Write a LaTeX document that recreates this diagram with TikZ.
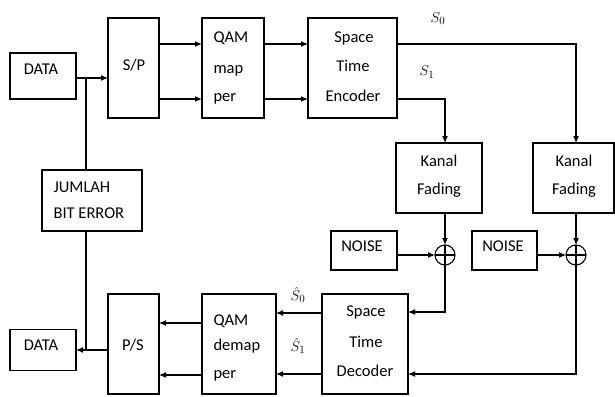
\documentclass[tikz,border=0pt]{standalone}
\usepackage{fontspec}
\setmainfont{Carlito}
\usetikzlibrary{arrows.meta}
\begin{document}
\begin{tikzpicture}[x=1pt,y=-1pt,line width=1.1pt,
  >={Latex[length=7pt,width=6pt]},
  box/.style={draw,inner sep=0,outer sep=0},
  txt/.style={inner sep=0,anchor=mid,font=\fontsize{16.5}{18}\selectfont},
  ltxt/.style={inner sep=0,anchor=mid west,font=\fontsize{16.5}{18}\selectfont},
  lbl/.style={inner sep=0,font=\fontsize{15}{16}\selectfont},
  adder/.style={draw,circle,inner sep=0,minimum size=20pt,outer sep=0}]
\useasboundingbox (0,0) rectangle (615,396);
% boxes
\node[box,minimum width=66pt,minimum height=46pt] (data1) at (43,76) {};
\node[box,minimum width=51pt,minimum height=100pt] (sp) at (133.5,68) {};
\node[box,minimum width=62pt,minimum height=100pt] (qam) at (233,68) {};
\node[box,minimum width=89pt,minimum height=100pt] (enc) at (352.5,68) {};
\node[box,minimum width=86pt,minimum height=70pt] (kan1) at (439,178) {};
\node[box,minimum width=81pt,minimum height=70pt] (kan2) at (573.5,178) {};
\node[box,minimum width=66pt,minimum height=39pt] (noise1) at (364,250.5) {};
\node[box,minimum width=65pt,minimum height=39pt] (noise2) at (504.5,250.5) {};
\node[adder] (add1) at (445,255) {};
\node[adder] (add2) at (576,255) {};
\draw (add1.north) -- (add1.south) (add1.west) -- (add1.east);
\draw (add2.north) -- (add2.south) (add2.west) -- (add2.east);
\node[box,minimum width=86pt,minimum height=100pt] (dec) at (365,344) {};
\node[box,minimum width=74pt,minimum height=100pt] (demap) at (239,344) {};
\node[box,minimum width=51pt,minimum height=100pt] (ps) at (133.5,344) {};
\node[box,minimum width=66pt,minimum height=41pt] (data2) at (43,350) {};
\node[box,minimum width=100pt,minimum height=61pt] (jum) at (92,200.5) {};
% texts
\node[txt] (t1) at (41,72) {DATA};
\node[txt] (t2) at (134,68) {S/P};
\node[ltxt] (t3) at (213,40) {QAM};
\node[ltxt] (t4) at (213,71) {map};
\node[ltxt] (t5) at (213,99) {per};
\node[txt] (t6) at (354,40) {Space};
\node[txt] (t7) at (353,69) {Time};
\node[txt] (t8) at (353,99) {Encoder};
\node[txt] (t9) at (439,164) {Kanal};
\node[txt] (t10) at (439,192) {Fading};
\node[txt] (t11) at (574,164) {Kanal};
\node[txt] (t12) at (574,192) {Fading};
\node[txt] (t13) at (362,249) {NOISE};
\node[txt] (t14) at (503,249) {NOISE};
\node[ltxt] (t15) at (53,190) {JUMLAH};
\node[ltxt] (t16) at (53,216) {BIT ERROR};
\node[txt] (t17) at (366,314) {Space};
\node[txt] (t18) at (366,345) {Time};
\node[txt] (t19) at (365,374) {Decoder};
\node[ltxt] (t20) at (213,323) {QAM};
\node[ltxt] (t21) at (213,348) {demap};
\node[ltxt] (t22) at (213,376) {per};
\node[txt] (t23) at (133,348) {P/S};
\node[txt] (t24) at (41,348) {DATA};
\node[lbl] (l1) at (438,19) {$S_0$};
\node[lbl] (l2) at (427,72) {$S_1$};
\node[lbl] (l3) at (298,295) {$\hat{S}_0$};
\node[lbl] (l4) at (298,346) {$\hat{S}_1$};
% rows
\coordinate (rA) at (0,44);
\coordinate (rB) at (0,99);
\coordinate (rin) at (0,78);
\coordinate (j1) at (86,78);
\coordinate (rd1) at (0,312);
\coordinate (rd2) at (0,374);
\coordinate (rm1) at (0,313);
\coordinate (rm2) at (0,374);
\coordinate (rp1) at (0,323);
\coordinate (rp2) at (0,375);
% connectors
\draw[->] (data1.east |- rin) -- (sp.west |- rin);
\draw (j1) -- (j1 |- jum.north);
\draw[->] (sp.east |- rA) -- (qam.west |- rA);
\draw[->] (sp.east |- rB) -- (qam.west |- rB);
\draw[->] (qam.east |- rA) -- (enc.west |- rA);
\draw[->] (qam.east |- rB) -- (enc.west |- rB);
\draw[->] (enc.east |- rA) -| (add2 |- kan2.north);
\draw[->] (enc.east |- rB) -| (add1 |- kan1.north);
\draw[->] (add1 |- kan1.south) -- (add1.north);
\draw[->] (add2 |- kan2.south) -- (add2.north);
\draw[->] (noise1.east |- add1.west) -- (add1.west);
\draw[->] (noise2.east |- add2.west) -- (add2.west);
\draw[->] (add1.south) |- (dec.east |- rd1);
\draw[->] (add2.south) |- (dec.east |- rd2);
\draw[->] (dec.west |- rm1) -- (demap.east |- rm1);
\draw[->] (dec.west |- rm2) -- (demap.east |- rm2);
\draw[->] (demap.west |- rp1) -- (ps.east |- rp1);
\draw[->] (demap.west |- rp2) -- (ps.east |- rp2);
\draw[->] (ps.west |- data2.east) -- (data2.east);
\draw (j1 |- jum.south) -- (j1 |- data2.east);
\end{tikzpicture}
\end{document}
